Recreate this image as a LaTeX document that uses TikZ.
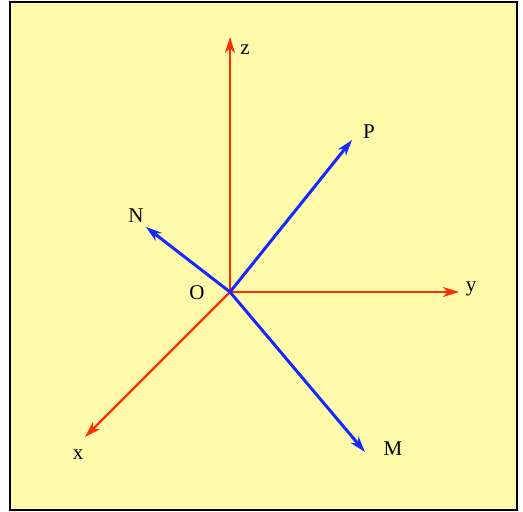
\documentclass[tikz,border=0pt]{standalone}
\usepackage{fontspec}
\setmainfont{Liberation Serif}
\usetikzlibrary{arrows.meta}

\definecolor{axisred}{RGB}{255,45,0}
\definecolor{vecblue}{RGB}{20,40,255}
\definecolor{paper}{RGB}{255,251,170}

\begin{document}
\begin{tikzpicture}[
  x=1pt, y=-1pt,
  axis/.style={draw=axisred, line width=2.4pt, -{Stealth[length=16pt, width=10pt, inset=5pt]}},
  vec/.style={draw=vecblue, line width=3pt, -{Stealth[length=16pt, width=10pt, inset=5pt]}},
  lbl/.style={inner sep=0pt, font=\fontsize{21}{21}\selectfont}
]
  \useasboundingbox (0,0) rectangle (523,512);
  \draw[fill=paper, line width=2pt] (10,1.5) rectangle (517,510);

  % origin and arrow tips
  \coordinate (O) at (230,292);
  \coordinate (xt) at (85,437);
  \coordinate (yt) at (459,292);
  \coordinate (zt) at (230,37);
  \coordinate (Pt) at (352,140);
  \coordinate (Nt) at (146,227);
  \coordinate (Mt) at (365,452);

  % labels
  \node[lbl] (xl) at (78,455) {x};
  \node[lbl] (yl) at (471,289) {y};
  \node[lbl] (zl) at (245,50) {z};
  \node[lbl] (Pl) at (369,132) {P};
  \node[lbl] (Nl) at (136,216) {N};
  \node[lbl] (Ml) at (393,449) {M};
  \node[lbl] (Ol) at (197,293) {O};

  % coordinate axes
  \foreach \to in {xt, yt, zt}
    \draw[axis] (O) -- (\to);

  % vectors
  \foreach \to in {Pt, Nt, Mt}
    \draw[vec] (O) -- (\to);
\end{tikzpicture}
\end{document}
